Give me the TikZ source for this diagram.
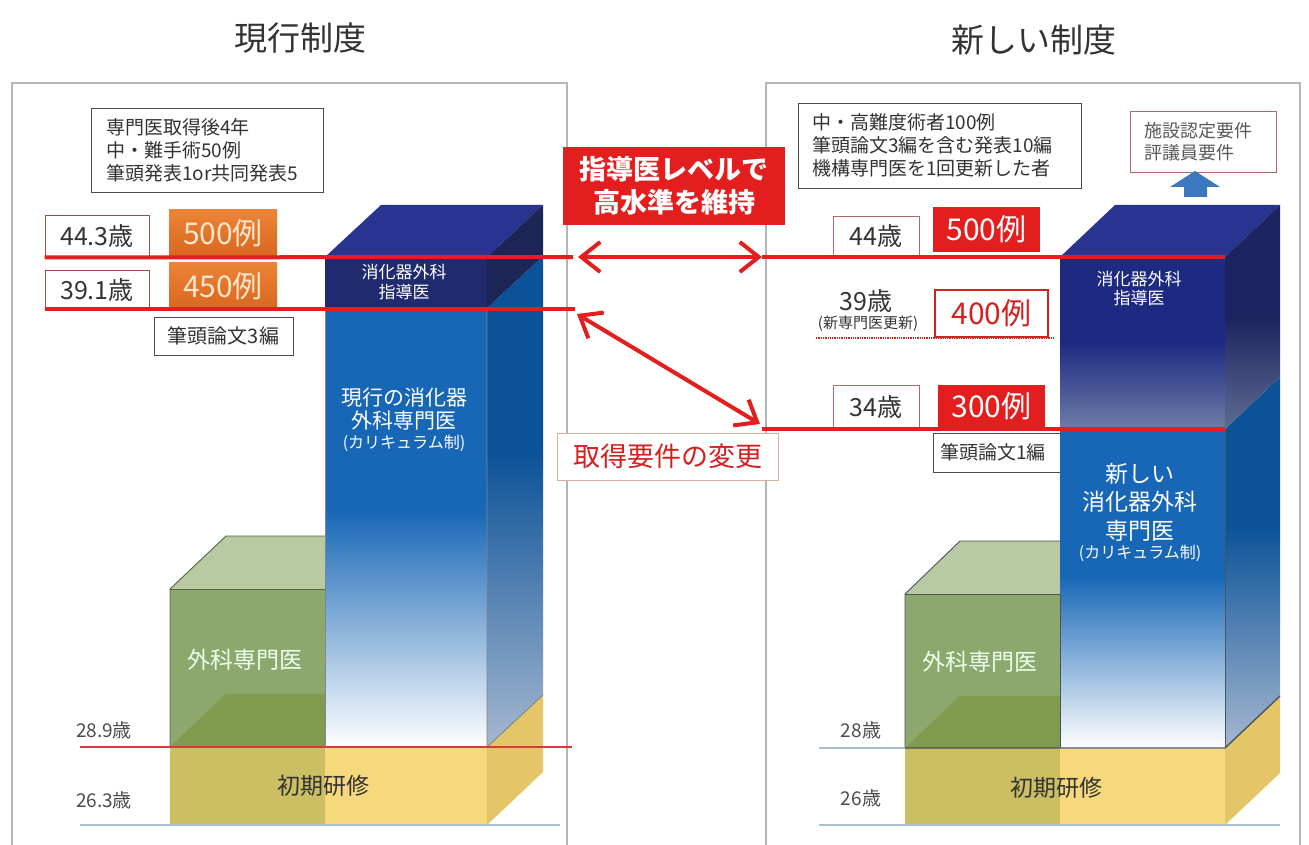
\documentclass[tikz,border=0pt]{standalone}
\usepackage{fontspec}
\setmainfont{Noto Sans CJK JP}
\usetikzlibrary{arrows.meta}
\newcommand\fs[2]{\fontsize{#1}{#2}\selectfont}
\definecolor{myred}{HTML}{E21E1E}
\definecolor{framegray}{HTML}{B5B5B5}
\definecolor{agebrd}{HTML}{A04A4A}
\definecolor{orng}{HTML}{EC8436}
\definecolor{orngdk}{HTML}{D9661F}
\definecolor{orngtxt}{HTML}{FCE6CC}
\definecolor{navyL}{HTML}{1F2B6E}
\definecolor{navytop}{HTML}{28348F}
\definecolor{navyside}{HTML}{1B2556}
\definecolor{bluemain}{HTML}{1767B6}
\definecolor{blueside}{HTML}{0B5298}
\definecolor{bluesidelow}{HTML}{A6B8D0}
\definecolor{navyR}{HTML}{1E2A82}
\definecolor{navyRlow}{HTML}{6E7DA8}
\definecolor{navyRside}{HTML}{1B245E}
\definecolor{navyRsidelow}{HTML}{5E6C94}
\definecolor{greenF}{HTML}{8CA86C}
\definecolor{greenT}{HTML}{B8C9A3}
\definecolor{greenD}{HTML}{809B50}
\definecolor{yelL}{HTML}{CBBE63}
\definecolor{yelR}{HTML}{F6D87D}
\definecolor{yelS}{HTML}{E4C567}
\definecolor{edgec}{HTML}{4A545C}
\definecolor{txt}{HTML}{333333}
\definecolor{gline}{HTML}{A9BFD4}
\definecolor{thinred}{HTML}{D43C3C}
\definecolor{uparrow}{HTML}{3C78C0}
\definecolor{keyred}{HTML}{D42020}
\definecolor{facbrd}{HTML}{B06868}
\definecolor{chgbrd}{HTML}{D8B0A0}
\pgfdeclareverticalshading{blueF}{100bp}{color(0bp)=(white); color(25bp)=(white); color(52bp)=(bluemain); color(100bp)=(bluemain)}
\pgfdeclareverticalshading{blueS}{100bp}{color(0bp)=(bluesidelow); color(25bp)=(bluesidelow); color(55bp)=(blueside); color(100bp)=(blueside)}
\pgfdeclareverticalshading{navyF}{100bp}{color(0bp)=(navyRlow); color(25bp)=(navyRlow); color(50bp)=(navyR); color(100bp)=(navyR)}
\pgfdeclareverticalshading{navyS}{100bp}{color(0bp)=(navyRsidelow); color(25bp)=(navyRsidelow); color(50bp)=(navyRside); color(100bp)=(navyRside)}
\pgfdeclareverticalshading{orngF}{100bp}{color(0bp)=(orngdk); color(25bp)=(orngdk); color(75bp)=(orng); color(100bp)=(orng)}
\tikzset{
  panel/.style={draw=framegray, line width=1.2pt},
  info/.style={draw=black!70, line width=0.9pt, fill=white, text=txt, inner ysep=0pt, align=left},
  agebox/.style={draw=agebrd, line width=0.9pt, fill=white, text=txt, inner sep=0pt, font=\fs{25}{28}},
  numbox/.style={inner sep=0pt, font=\fs{30}{32}},
  orangebox/.style={numbox, shade, shading=orngF, text=orngtxt},
  redbox/.style={numbox, fill=myred, text=white},
  redline/.style={draw=myred, line width=4pt},
  redarrow/.style={draw=myred, line width=4pt, {Straight Barb[length=19pt,width=30pt]}-{Straight Barb[length=19pt,width=30pt]}},
  plain/.style={text=txt, inner sep=0pt},
  towertxt/.style={text=white, align=center, inner sep=0pt},
  edgeline/.style={draw=edgec, line width=0.9pt},
  paperbox/.style={draw=black!70, line width=0.9pt, fill=white, text=txt, inner sep=0pt, font=\fs{19}{22}},
}
\begin{document}
\begin{tikzpicture}[x=1pt,y=-1pt]
\useasboundingbox (0,0) rectangle (1309,845);
\fill[white] (0,0) rectangle (1309,845);

% titles
\node[plain, font=\fs{33}{36}] (titleL) at (300,38) {現行制度};
\node[plain, font=\fs{33}{36}] (titleR) at (1034,40) {新しい制度};

% panel frames
\draw[panel] (12,845) -- (12,83) -- (567,83) -- (567,845);
\draw[panel] (766,845) -- (766,83) -- (1300,83) -- (1300,845);

% ================= LEFT (current) =================
\fill[yelL] (170,747) rectangle (325,825);
\fill[yelR] (325,747) rectangle (487,825);
\fill[yelS] (487,747) -- (543,694) -- (543,772) -- (487,825) -- cycle;
\fill[greenF] (170,589) rectangle (325,747);
\fill[greenT] (170,589) -- (325,589) -- (381,536) -- (226,536) -- cycle;
\fill[greenD] (170,747) -- (226,694) -- (325,694) -- (325,747) -- cycle;
\draw[edgeline, draw=greenF!60!black] (170,747) -- (170,589) -- (226,536) -- (325,536);
\draw[edgeline, draw=greenF!60!black] (170,589) -- (325,589);
\shade[shading=blueF] (325,308) rectangle (487,747);
\shade[shading=blueS] (487,308) -- (543,256) -- (543,695) -- (487,747) -- cycle;
\fill[navyL] (325,257) rectangle (487,308);
\fill[navytop] (325,257) -- (487,257) -- (543,205) -- (381,205) -- cycle;
\fill[navyside] (487,257) -- (543,205) -- (543,256) -- (487,308) -- cycle;
\draw[edgeline, draw=edgec!70] (325,747) -- (325,308);
\draw[edgeline, draw=edgec!70] (487,308) -- (487,747) -- (543,695);

\node[info, minimum width=232pt, minimum height=84pt, text width=202pt, inner xsep=15pt, font=\fs{19}{23}] (reqL) at (207,150) {専門医取得後4年\\中・難手術50例\\筆頭発表1or共同発表5};
\node[agebox, minimum width=104pt, minimum height=42pt] (ageL44) at (97,236) {44.3歳};
\node[orangebox, minimum width=108pt, minimum height=47pt] (nL500) at (223,233.5) {500例};
\node[agebox, minimum width=104pt, minimum height=40pt] (ageL39) at (97,290) {39.1歳};
\node[orangebox, minimum width=108pt, minimum height=48pt] (nL450) at (223,286) {450例};
\node[paperbox, minimum width=139pt, minimum height=38pt, font=\fs{20}{22}] (paperL) at (223.5,336) {筆頭論文3編};

\coordinate (rl1e) at (573,257);
\coordinate (rl2e) at (575,309);
\draw[redline] (ageL44.south west) -- (rl1e);
\draw[redline] (ageL39.south west |- rl2e) -- (rl2e);

\node[towertxt, font=\fs{17}{20}] (leadL) at (404,282) {消化器外科\\指導医};
\node[towertxt, font=\fs{21}{22.5}] (specL) at (404,409) {現行の消化器\\外科専門医};
\node[towertxt, font=\fs{16}{18}] (currL) at (404,443) {(カリキュラム制)};
\node[towertxt, text=white!93!green, font=\fs{23}{25}] (surgL) at (245,660) {外科専門医};
\node[plain, font=\fs{23}{25}] (initL) at (323,786) {初期研修};

\coordinate (l289s) at (80,747);
\coordinate (l289e) at (572,747);
\coordinate (l263s) at (80,825);
\coordinate (l263e) at (560,825);
\draw[thinred, line width=1.2pt] (l289s) -- (l289e);
\draw[gline, line width=1.2pt] (l263s) -- (l263e);
\node[plain, text=black!70, font=\fs{19}{21}] (a289) at (104,730) {28.9歳};
\node[plain, text=black!70, font=\fs{19}{21}] (a263) at (104,800) {26.3歳};

% ================= RIGHT (new) =================
\node[paperbox, minimum width=134pt, minimum height=39pt, text width=120pt, align=left, inner xsep=7pt] (paperR) at (1000,452.5) {筆頭論文1編};
\fill[yelL] (905,748) rectangle (1060,825);
\fill[yelR] (1060,748) rectangle (1225,825);
\fill[yelS] (1225,748) -- (1280,696) -- (1280,773) -- (1225,825) -- cycle;
\fill[greenF] (905,594) rectangle (1060,748);
\fill[greenT] (905,594) -- (1060,594) -- (1115,541) -- (960,541) -- cycle;
\fill[greenD] (905,748) -- (960,696) -- (1060,696) -- (1060,748) -- cycle;
\draw[edgeline] (905,748) -- (905,594) -- (960,541) -- (1060,541);
\draw[edgeline] (905,594) -- (1060,594);
\shade[shading=blueF] (1060,429) rectangle (1225,748);
\shade[shading=blueS] (1225,429) -- (1280,377) -- (1280,696) -- (1225,748) -- cycle;
\shade[shading=navyF] (1060,257) rectangle (1225,429);
\fill[navytop] (1060,257) -- (1225,257) -- (1280,205) -- (1115,205) -- cycle;
\shade[shading=navyS] (1225,257) -- (1280,205) -- (1280,377) -- (1225,429) -- cycle;
\draw[edgeline] (1060,594) -- (1060,748);
\draw[edgeline, line width=1.4pt] (905,748) -- (1225,748) -- (1280,696);
\draw[edgeline] (1225,429) -- (1225,748);

\node[info, minimum width=283pt, minimum height=85pt, text width=255pt, inner xsep=14pt, font=\fs{19}{23}] (reqR) at (939.5,145.5) {中・高難度術者100例\\筆頭論文3編を含む発表10編\\機構専門医を1回更新した者};
\node[info, draw=facbrd, text=black!65, minimum width=146pt, minimum height=61pt, text width=118pt, inner xsep=14pt, font=\fs{18}{22}] (facR) at (1203,141.5) {施設認定要件\\評議員要件};
\fill[uparrow] (1184,197) -- (1184,187) -- (1170,187) -- (1195,171) -- (1220,187) -- (1207,187) -- (1207,197) -- cycle;

\node[agebox, draw=facbrd, minimum width=86pt, minimum height=41pt] (ageR44) at (876,236.5) {44歳};
\node[redbox, minimum width=107pt, minimum height=45pt] (nR500) at (986.5,229.5) {500例};
\node[plain, font=\fs{25}{27}] (ageR39) at (866,301) {39歳};
\node[plain, font=\fs{15}{17}] (renewR) at (868,324) {(新専門医更新)};
\node[numbox, draw=keyred, line width=1.6pt, fill=white, text=keyred, minimum width=113pt, minimum height=47pt] (nR400) at (991.5,313.5) {400例};
\coordinate (dots) at (816,338);
\coordinate (dote) at (1054,338);
\draw[myred, line width=1.3pt, densely dotted] (dots) -- (dote);
\node[agebox, draw=facbrd, minimum width=86pt, minimum height=44pt] (ageR34) at (876,407) {34歳};
\node[redbox, minimum width=107pt, minimum height=43pt] (nR300) at (991.5,406.5) {300例};

\coordinate (rr1s) at (762,257);
\coordinate (rr1e) at (1225,257);
\coordinate (rr2s) at (762,429);
\coordinate (rr2e) at (1225,429);
\draw[redline] (rr1s) -- (rr1e);
\draw[redline] (rr2s) -- (rr2e);

\node[towertxt, font=\fs{17}{19}] (leadR) at (1139,289) {消化器外科\\指導医};
\node[towertxt, font=\fs{23}{28.5}] (specR) at (1140,502) {新しい\\消化器外科\\専門医};
\node[towertxt, font=\fs{16}{18}] (currR) at (1140,553) {(カリキュラム制)};
\node[towertxt, text=white!93!green, font=\fs{23}{25}] (surgR) at (980,662) {外科専門医};
\node[plain, font=\fs{23}{25}] (initR) at (1056,788) {初期研修};

\coordinate (r28s) at (819,748);
\coordinate (r28e) at (905,748);
\coordinate (r26s) at (819,825);
\coordinate (r26e) at (1280,825);
\draw[gline, line width=1.2pt] (r28s) -- (r28e);
\draw[gline, line width=1.2pt] (r26s) -- (r26e);
\node[plain, text=black!70, font=\fs{19}{21}] (a28) at (861,730) {28歳};
\node[plain, text=black!70, font=\fs{19}{21}] (a26) at (861,798) {26歳};

% ================= CENTER =================
\node[fill=myred, text=white, align=center, minimum width=222pt, minimum height=78pt, inner sep=0pt, font=\fs{27}{33}\bfseries] (keep) at (674,186) {指導医レベルで\\高水準を維持};
\coordinate (a1l) at (578,257);
\coordinate (a1r) at (762,257);
\coordinate (a2l) at (577,314);
\coordinate (a2r) at (760,424);
\draw[redarrow] (a1l) -- (a1r);
\draw[redarrow] (a2l) -- (a2r);
\node[draw=chgbrd, line width=0.9pt, fill=white, text=keyred, minimum width=221pt, minimum height=47pt, inner sep=0pt, font=\fs{27}{29}] (change) at (667.5,456.5) {取得要件の変更};
\end{tikzpicture}
\end{document}
